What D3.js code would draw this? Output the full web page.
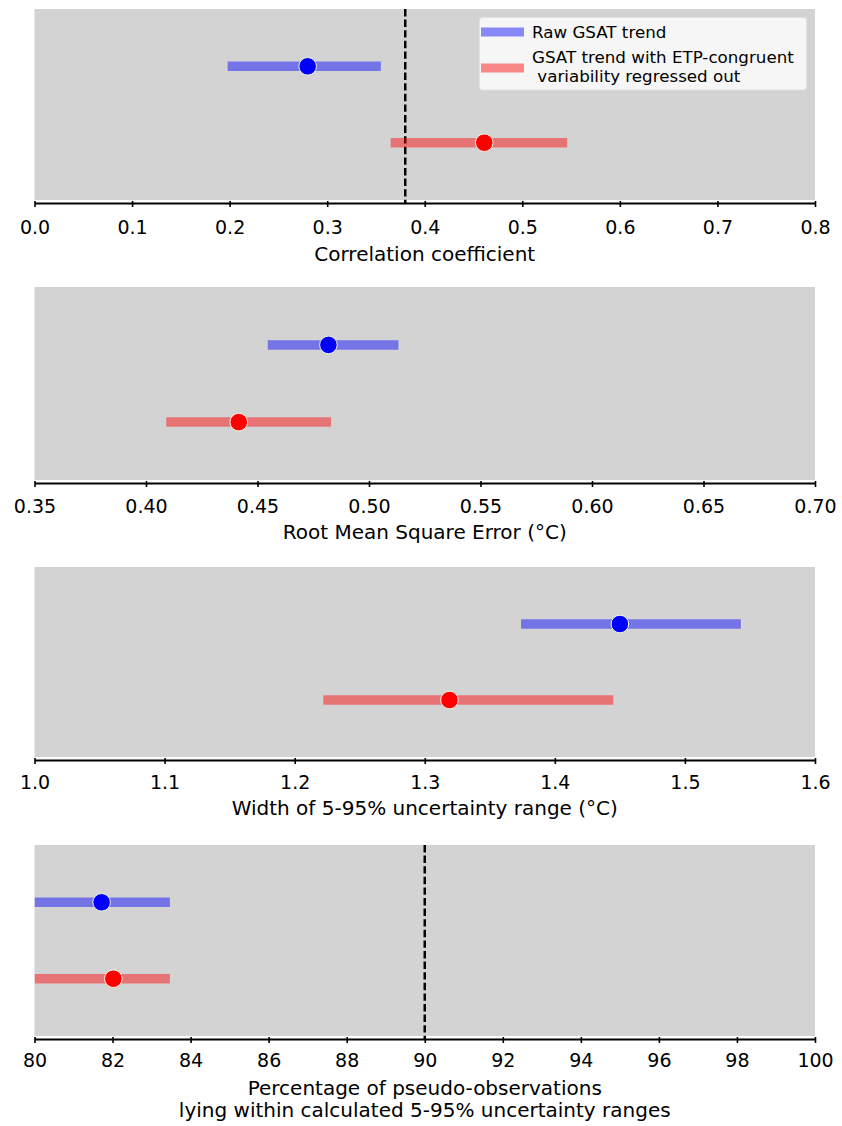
<!DOCTYPE html>
<html>
<head>
<meta charset="utf-8">
<script src="https://cdn.jsdelivr.net/npm/d3@7"></script>
<style>
  html, body { margin: 0; padding: 0; background: #ffffff; }
  svg { display: block; }
  text { font-family: "DejaVu Sans", sans-serif; fill: #000; }
</style>
</head>
<body>
<svg id="chart" width="842" height="1126"></svg>
<script>
// Series labels (row 0 = raw trend, row 1 = trend with ETP-congruent variability removed)
const seriesNames = ["Raw GSAT trend", "GSAT trend with ETP-congruent\n variability regressed out"];
const seriesColors = ["#0000ff", "#ff0000"];

// Correlation coefficient: 5%, central, 95%
const corrLow  = [0.198, 0.365];
const corrMid  = [0.280, 0.461];
const corrHigh = [0.355, 0.546];
const corrRef  = 0.38;
const corrTicks = [0.0, 0.1, 0.2, 0.3, 0.4, 0.5, 0.6, 0.7, 0.8];

// Root mean square error (°C)
const rmseLow  = [0.4546, 0.4091];
const rmseMid  = [0.4818, 0.4416];
const rmseHigh = [0.5132, 0.4830];
const rmseTicks = [0.35, 0.40, 0.45, 0.50, 0.55, 0.60, 0.65, 0.70];

// Width of 5-95% uncertainty range (°C)
const widthLow  = [1.374, 1.222];
const widthMid  = [1.450, 1.319];
const widthHigh = [1.543, 1.445];
const widthTicks = [1.0, 1.1, 1.2, 1.3, 1.4, 1.5, 1.6];

// Percentage of pseudo-observations inside the 5-95% ranges
const pctLow  = [80.0, 80.0];
const pctMid  = [81.72, 82.02];
const pctHigh = [83.47, 83.47];
const pctRef  = 90;
const pctTicks = [80, 82, 84, 86, 88, 90, 92, 94, 96, 98, 100];

const panels = [
  { low: corrLow, mid: corrMid, high: corrHigh, ref: corrRef, ticks: corrTicks,
    fmt: d3.format(".1f"), label: ["Correlation coefficient"],
    top: 9, bottom: 200, tickSize: 19, labelSize: 20, tickDy: 31, labelDy: 58, legend: true },
  { low: rmseLow, mid: rmseMid, high: rmseHigh, ref: null, ticks: rmseTicks,
    fmt: d3.format(".2f"), label: ["Root Mean Square Error (°C)"],
    top: 287, bottom: 480, tickSize: 19, labelSize: 20, tickDy: 30, labelDy: 56 },
  { low: widthLow, mid: widthMid, high: widthHigh, ref: null, ticks: widthTicks,
    fmt: d3.format(".1f"), label: ["Width of 5-95% uncertainty range (°C)"],
    top: 567, bottom: 757, tickSize: 19, labelSize: 20, tickDy: 29, labelDy: 55 },
  { low: pctLow, mid: pctMid, high: pctHigh, ref: pctRef, ticks: pctTicks,
    fmt: d3.format("d"), label: ["Percentage of pseudo-observations", "lying within calculated 5-95% uncertainty ranges"],
    top: 845, bottom: 1036, tickSize: 19, labelSize: 20, tickDy: 28, labelDy: 56, lineGap: 22 }
];

const svg = d3.select("#chart");
const left = 34.5, right = 815;

panels.forEach((p, i) => {
  const g = svg.append("g");
  const x = d3.scaleLinear().domain([p.ticks[0], p.ticks[p.ticks.length - 1]]).range([left, right]);
  const y = d3.scaleLinear().domain([1.75, -0.75]).range([p.top, p.bottom]);

  const clipId = "clip" + i;
  svg.append("clipPath").attr("id", clipId)
    .append("rect").attr("x", left).attr("y", p.top).attr("width", right - left).attr("height", p.bottom - p.top + 4);

  g.append("rect")
    .attr("x", left).attr("y", p.top)
    .attr("width", right - left).attr("height", p.bottom - p.top)
    .attr("fill", "#d3d3d3");

  const plot = g.append("g").attr("clip-path", `url(#${clipId})`);

  // Reference line
  if (p.ref !== null) {
    plot.append("line")
      .attr("x1", x(p.ref)).attr("x2", x(p.ref))
      .attr("y1", p.top).attr("y2", p.bottom + 4)
      .attr("stroke", "#000").attr("stroke-width", 2.5)
      .attr("stroke-dasharray", "7.4,3.2");
  }

  // Uncertainty bars: row 0 at y=1, row 1 at y=0
  const rows = d3.range(2).map(k => ({ k, yv: 1 - k, lo: p.low[k], mid: p.mid[k], hi: p.high[k] }));

  plot.selectAll("line.bar").data(rows).join("line")
    .attr("class", "bar")
    .attr("x1", d => x(d.lo)).attr("x2", d => x(d.hi))
    .attr("y1", d => y(d.yv)).attr("y2", d => y(d.yv))
    .attr("stroke", d => seriesColors[d.k])
    .attr("stroke-opacity", 0.45)
    .attr("stroke-width", 9.5);

  plot.selectAll("circle.mid").data(rows).join("circle")
    .attr("class", "mid")
    .attr("cx", d => x(d.mid)).attr("cy", d => y(d.yv))
    .attr("r", 8.8)
    .attr("fill", d => seriesColors[d.k])
    .attr("stroke", "#f4f4e4").attr("stroke-width", 1);

  // x axis
  const axisY = p.bottom + 3;
  const axis = d3.axisBottom(x).tickValues(p.ticks).tickFormat(p.fmt).tickSize(4).tickSizeOuter(0);
  const ax = g.append("g").attr("transform", `translate(0,${axisY})`).call(axis);
  ax.select(".domain").attr("stroke", "#000").attr("stroke-width", 2);
  ax.selectAll(".tick line").attr("stroke", "#000").attr("stroke-width", 1.6).attr("y1", -2);
  ax.selectAll(".tick text")
    .attr("y", p.tickDy).attr("dy", null)
    .attr("font-size", p.tickSize)
    .attr("font-family", "DejaVu Sans, sans-serif")
    .attr("fill", "#000");

  p.label.forEach((t, j) => {
    g.append("text")
      .attr("x", (left + right) / 2)
      .attr("y", axisY + p.labelDy + j * (p.lineGap || 0))
      .attr("text-anchor", "middle")
      .attr("font-size", p.labelSize)
      .text(t);
  });

  // Legend
  if (p.legend) {
    const lg = g.append("g");
    lg.append("rect")
      .attr("x", 479.5).attr("y", 17.5).attr("width", 327).attr("height", 72.5)
      .attr("rx", 3)
      .attr("fill", "#f6f6f6").attr("stroke", "#e2e2e2").attr("stroke-width", 1);
    const entryY = [32, 68];
    seriesNames.forEach((name, k) => {
      lg.append("rect")
        .attr("x", 481).attr("y", entryY[k] - 4.5)
        .attr("width", 43).attr("height", 9)
        .attr("fill", seriesColors[k]).attr("fill-opacity", 0.45);
      const lines = name.split("\n");
      const startY = k === 0 ? 38 : 62.5;
      lines.forEach((ln, j) => {
        lg.append("text")
          .attr("x", 532).attr("y", startY + j * 19)
          .attr("font-size", 16.7)
          .attr("xml:space", "preserve")
          .style("white-space", "pre")
          .text(ln);
      });
    });
  }
});
</script>
</body>
</html>
